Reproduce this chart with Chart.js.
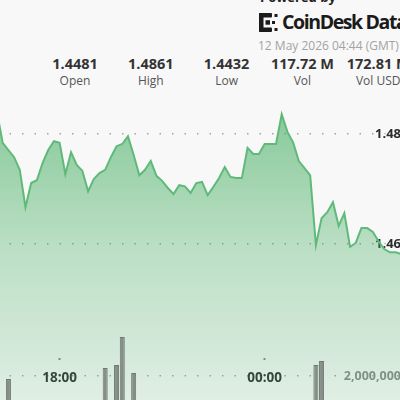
<!DOCTYPE html>
<html lang="en">
<head>
<meta charset="UTF-8">
<title>CoinDesk Data chart</title>
<style>
  html, body { margin: 0; padding: 0; }
  body {
    width: 400px; height: 400px; overflow: hidden; position: relative;
    background: #f8f8f8; font-family: "Open Sans", sans-serif;
  }
  #powered { position: absolute; left: 260px; top: -9px; font-size: 13px; font-weight: 700; line-height: 13px; color: #222; white-space: nowrap; }
  #brand { position: absolute; left: 259px; top: 12px; display: flex; align-items: center; white-space: nowrap; }
  #brand span { font-size: 19.5px; font-weight: 700; letter-spacing: -1.4px; color: #1b1b1b; margin-left: 4px; line-height: 20px; }
  #stamp { position: absolute; left: 258px; top: 37.5px; font-size: 12px; line-height: 15px; color: #a3a3a3; white-space: nowrap; }
  .stat { position: absolute; top: 55px; width: 76px; text-align: center; white-space: nowrap; }
  .stat b { display: block; font-size: 14.5px; line-height: 17px; color: #333; }
  .stat i { display: block; font-style: normal; font-size: 12px; line-height: 15px; margin-top: 1px; color: #555; }
  #chart { position: absolute; left: -3px; top: 100px; }
</style>
</head>
<body>
  <div id="powered">Powered by</div>
  <div id="brand">
    <svg width="19" height="19" viewBox="0 0 19 19">
      <g fill="#1b1b1b">
        <rect x="0" y="0" width="4.5" height="19" rx="1"/>
        <rect x="0" y="0" width="13" height="4.5" rx="1"/>
        <rect x="0" y="14.5" width="13" height="4.5" rx="1"/>
        <rect x="6.5" y="7.2" width="4.5" height="4.5"/>
        <rect x="15.5" y="1" width="3" height="3"/>
        <rect x="15.5" y="15" width="3" height="3"/>
        <rect x="13" y="8" width="3" height="3"/>
      </g>
    </svg>
    <span>CoinDesk Data</span>
  </div>
  <div id="stamp">12 May 2026 04:44 (GMT)</div>
  <div id="stats"></div>
  <canvas id="chart" width="410" height="320"></canvas>

<script src="https://cdn.jsdelivr.net/npm/chart.js"></script>
<script>
  // header stats
  const statValues = ['1.4481', '1.4861', '1.4432', '117.72 M', '172.81 M'];
  const statNames = ['Open', 'High', 'Low', 'Vol', 'Vol USD'];

  // 10 minute candles, 16:10 -> 04:10
  const times = [
    '16:10', '16:20', '16:30', '16:40', '16:50',
    '17:00', '17:10', '17:20', '17:30', '17:40', '17:50',
    '18:00', '18:10', '18:20', '18:30', '18:40', '18:50',
    '19:00', '19:10', '19:20', '19:30', '19:40', '19:50',
    '20:00', '20:10', '20:20', '20:30', '20:40', '20:50',
    '21:00', '21:10', '21:20', '21:30', '21:40', '21:50',
    '22:00', '22:10', '22:20', '22:30', '22:40', '22:50',
    '23:00', '23:10', '23:20', '23:30', '23:40', '23:50',
    '00:00', '00:10', '00:20', '00:30', '00:40', '00:50',
    '01:00', '01:10', '01:20', '01:30', '01:40', '01:50',
    '02:00', '02:10', '02:20', '02:30', '02:40', '02:50',
    '03:00', '03:10', '03:20', '03:30', '03:40', '03:50',
    '04:00', '04:10'
  ];
  const prices = [
    1.4840, 1.4784, 1.4771, 1.4758, 1.4735,
    1.4667, 1.4711, 1.4716, 1.4747, 1.4771, 1.4787,
    1.4784, 1.4727, 1.4767, 1.4744, 1.4733, 1.4696,
    1.4718, 1.4729, 1.4735, 1.4758, 1.4778, 1.4782,
    1.4796, 1.4762, 1.4725, 1.4735, 1.4751, 1.4724,
    1.4715, 1.4702, 1.4691, 1.4707, 1.4705, 1.4693,
    1.4711, 1.4713, 1.4689, 1.4704, 1.4720, 1.4740,
    1.4722, 1.4720, 1.4720, 1.4775, 1.4764, 1.4764,
    1.4782, 1.4782, 1.4782, 1.4836, 1.4804, 1.4785,
    1.4751, 1.4738, 1.4725, 1.4598, 1.4647, 1.4658,
    1.4676, 1.4633, 1.4656, 1.4595, 1.4602, 1.4629,
    1.4629, 1.4622, 1.4605, 1.4591, 1.4585, 1.4585,
    1.4582, 1.4580
  ];
  const volumes = [
    420000, 610000, 1860000, 540000, 380000,
    720000, 450000, 310000, 280000, 520000, 390000,
    470000, 650000, 340000, 290000, 410000, 580000,
    360000, 440000, 2360000, 820000, 2500000, 3770000,
    760000, 2140000, 690000, 430000, 380000, 510000,
    330000, 270000, 460000, 350000, 240000, 300000,
    410000, 260000, 530000, 370000, 290000, 480000,
    320000, 250000, 230000, 620000, 380000, 270000,
    450000, 330000, 290000, 780000, 640000, 420000,
    560000, 490000, 830000, 2500000, 2680000, 740000,
    510000, 680000, 470000, 790000, 560000, 410000,
    350000, 380000, 440000, 520000, 330000, 290000,
    360000, 310000
  ];
  const priceTicks = [1.46, 1.48];
  const volumeTicks = [2000000];
  const timeTicks = ['18:00', '00:00'];
  const priceMin = 1.428, priceMax = 1.4862;
  const volumeMax = 14545000;

  const stats = document.getElementById('stats');
  statValues.forEach((v, i) => {
    const d = document.createElement('div');
    d.className = 'stat';
    d.style.left = (37 + i * 75.8) + 'px';
    d.innerHTML = '<b>' + v + '</b><i>' + statNames[i] + '</i>';
    stats.appendChild(d);
  });

  const dotted = { display: false, dash: [1.5, 11] };
  const noPad = s => { s.paddingTop = 0; s.paddingBottom = 0; s.paddingLeft = 0; s.paddingRight = 0; };
  // y labels sit inside the plot, right edge just past the crop
  const yFit = s => { noPad(s); s.width = 0; };

  new Chart(document.getElementById('chart'), {
    data: {
      labels: times,
      datasets: [
        {
          type: 'bar',
          data: volumes,
          yAxisID: 'yVol',
          order: 0,
          backgroundColor: '#858f88',
          borderColor: '#6d7871',
          borderWidth: 1,
          barPercentage: 0.88,
          categoryPercentage: 1
        },
        {
          type: 'line',
          data: prices,
          yAxisID: 'yPrice',
          order: 1,
          borderColor: '#5fba7a',
          borderWidth: 2,
          pointRadius: 0,
          tension: 0,
          fill: 'start',
          backgroundColor: (ctx) => {
            const area = ctx.chart.chartArea;
            if (!area) return 'rgba(60,170,90,0.3)';
            const g = ctx.chart.ctx.createLinearGradient(0, area.top, 0, area.bottom);
            g.addColorStop(0, 'rgba(60,170,90,0.62)');
            g.addColorStop(0.45, 'rgba(60,170,90,0.33)');
            g.addColorStop(1, 'rgba(60,170,90,0.1)');
            return g;
          }
        }
      ]
    },
    options: {
      responsive: false,
      animation: false,
      devicePixelRatio: 1,
      layout: { padding: 0, autoPadding: false },
      plugins: { legend: { display: false }, tooltip: { enabled: false } },
      scales: {
        x: {
          type: 'category',
          offset: false,
          position: { yVol: 2818000 },
          z: 1,
          grid: { offset: false, drawOnChartArea: false, drawTicks: true, tickLength: 2, tickWidth: 2, tickColor: '#8a8a8a' },
          border: { display: false },
          ticks: {
            autoSkip: false, maxRotation: 0, padding: 10, color: '#333',
            font: { family: 'Open Sans', size: 13.5, weight: 'bold' }
          },
          afterBuildTicks: s => { s.ticks = s.ticks.filter(t => timeTicks.includes(times[t.value])); },
          afterFit: noPad
        },
        yPrice: {
          type: 'linear',
          position: 'right',
          min: priceMin,
          max: priceMax,
          z: 1,
          grid: { color: 'rgba(0,0,0,0.35)', lineWidth: 1.5, drawTicks: false },
          border: dotted,
          ticks: {
            mirror: true, padding: -6, color: '#2d2d2d',
            font: { family: 'Open Sans', size: 13, weight: 'bold' },
            textStrokeColor: 'rgba(248,248,248,0.9)', textStrokeWidth: 3,
            callback: v => v.toFixed(2)
          },
          afterBuildTicks: s => { s.ticks = priceTicks.map(v => ({ value: v })); },
          afterFit: yFit
        },
        yVol: {
          type: 'linear',
          position: 'right',
          min: 0,
          max: volumeMax,
          z: 1,
          grid: { color: 'rgba(0,0,0,0.35)', lineWidth: 1.5, drawTicks: false },
          border: dotted,
          ticks: {
            mirror: true, padding: -6, color: '#8c8c8c',
            font: { family: 'Open Sans', size: 12.5, weight: 'bold' },
            callback: v => v.toLocaleString('en-US')
          },
          afterBuildTicks: s => { s.ticks = volumeTicks.map(v => ({ value: v })); },
          afterFit: yFit
        }
      }
    }
  });
</script>
</body>
</html>
